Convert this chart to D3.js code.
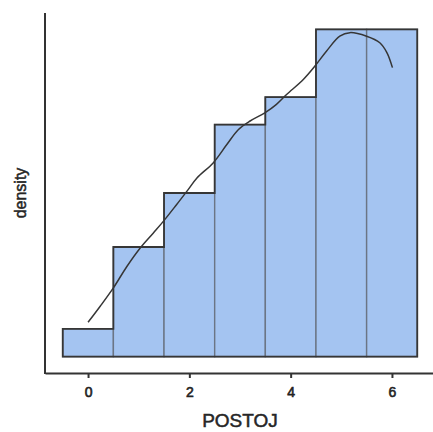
<!DOCTYPE html>
<html>
<head>
<meta charset="utf-8">
<script src="https://cdn.jsdelivr.net/npm/d3@7"></script>
<style>
  body { margin: 0; background: #fff; }
  svg text { font-family: "Liberation Sans", Arial, sans-serif; fill: #262626; }
</style>
</head>
<body>
<svg id="chart" width="433" height="432"></svg>
<script>
// bins centred on each value, heights as normalised cumulative density
const bins = [0, 1, 2, 3, 4, 5, 6];
const heights = [0.085, 0.335, 0.50, 0.709, 0.793, 1.0, 1.0];
const xTicks = [0, 2, 4, 6];

// smoothed curve
const curveX = [0, 0.24, 0.5, 0.76, 1.03, 1.29, 1.49, 1.75, 1.98, 2.15, 2.47, 2.74, 2.97, 3.2, 3.49, 3.72, 3.92, 4.25, 4.48, 4.71, 4.97, 5.17, 5.5, 5.76, 5.9, 6.01];
const curveY = [0.105, 0.154, 0.21, 0.274, 0.332, 0.378, 0.414, 0.465, 0.511, 0.546, 0.592, 0.648, 0.694, 0.72, 0.745, 0.771, 0.801, 0.847, 0.888, 0.934, 0.979, 0.99, 0.979, 0.959, 0.929, 0.883];

const svg = d3.select("#chart");
const x = d3.scaleLinear().domain([-0.85, 6.85]).range([45, 435]);
const y = d3.scaleLinear().domain([-0.05, 1.05]).range([373, 13]);

// bars
svg.append("g")
  .selectAll("rect")
  .data(bins)
  .join("rect")
  .attr("x", d => x(d - 0.5))
  .attr("y", (d, i) => y(heights[i]))
  .attr("width", x(1) - x(0))
  .attr("height", (d, i) => y(0) - y(heights[i]))
  .attr("fill", "#a4c4f1")
  .attr("stroke", "#6b7585")
  .attr("stroke-width", 1.4);

// outer step outline
const pts = [[-0.5, 0]];
bins.forEach((d, i) => {
  pts.push([d - 0.5, heights[i]]);
  pts.push([d + 0.5, heights[i]]);
});
pts.push([6.5, 0]);
svg.append("path")
  .attr("d", d3.line().x(p => x(p[0])).y(p => y(p[1]))(pts) + "Z")
  .attr("fill", "none")
  .attr("stroke", "#363636")
  .attr("stroke-width", 1.8);

// curve
svg.append("path")
  .attr("d", d3.line().curve(d3.curveCatmullRom)
    .x((d, i) => x(d)).y((d, i) => y(curveY[i]))(curveX))
  .attr("fill", "none")
  .attr("stroke", "#363636")
  .attr("stroke-width", 1.5);

// axes
const xAxis = svg.append("g")
  .attr("transform", "translate(0,373)")
  .call(d3.axisBottom(x).tickValues(xTicks).tickSizeInner(5).tickSizeOuter(0).tickPadding(9));
xAxis.select(".domain").attr("stroke", "#333").attr("stroke-width", 2);
xAxis.selectAll(".tick line").attr("stroke", "#333").attr("stroke-width", 2);
xAxis.selectAll(".tick text")
  .attr("font-size", 14).attr("fill", "#222")
  .style("font-family", "'Liberation Sans', Arial, sans-serif")
  .style("stroke", "#222").style("stroke-width", 0.6);

svg.append("line")
  .attr("x1", 45).attr("x2", 45)
  .attr("y1", 13).attr("y2", 374)
  .attr("stroke", "#333").attr("stroke-width", 2);

svg.append("text")
  .attr("x", 240).attr("y", 427)
  .attr("text-anchor", "middle")
  .attr("font-size", 19)
  .style("stroke", "#262626").style("stroke-width", 0.5)
  .text("POSTOJ");

svg.append("text")
  .attr("transform", "translate(26,193) rotate(-90)")
  .attr("text-anchor", "middle")
  .attr("font-size", 16)
  .style("stroke", "#262626").style("stroke-width", 0.5)
  .text("density");
</script>
</body>
</html>
